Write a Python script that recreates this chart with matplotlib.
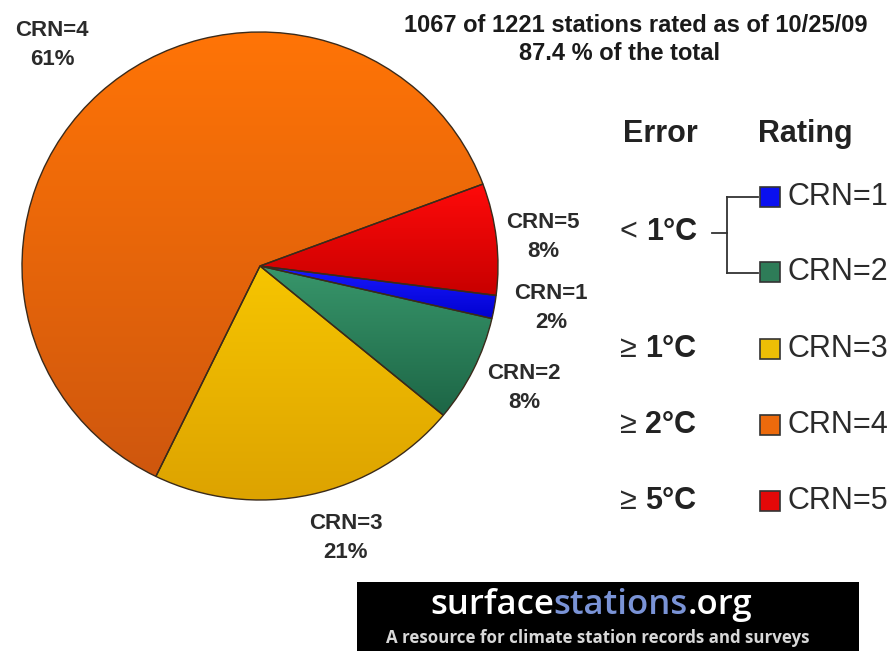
import matplotlib
matplotlib.use("Agg")
import matplotlib.pyplot as plt
import numpy as np
from matplotlib.patches import Rectangle
from matplotlib.colors import to_rgb

plt.rcParams['font.family'] = ['Liberation Sans', 'DejaVu Sans']

# ---- data ----
categories = ['CRN=1', 'CRN=2', 'CRN=3', 'CRN=4', 'CRN=5']
percent = [2, 8, 21, 61, 8]                 # label values
share = [1.6, 7.4, 21.2, 62.1, 7.7]         # wedge shares
colors = ['#0A10F0', '#2E7C58', '#EDBE06', '#EC6A0C', '#E40808']
top_colors = ['#1A1AFF', '#38966B', '#F6C500', '#FF7406', '#FF0A0A']
bot_colors = ['#0000D0', '#1D6646', '#DDA300', '#CF570E', '#C80000']
errors = ['< ', '< ', '\u2265 ', '\u2265 ', '\u2265 ']
error_vals = ['1°C', '1°C', '1°C', '2°C', '5°C']
title_lines = ['1067 of 1221 stations rated as of 10/25/09', '87.4 % of the total']

W, H = 895, 651
fig = plt.figure(figsize=(W / 100, H / 100), dpi=100)
fig.patch.set_facecolor('white')

# pie axes placed in pixel box
cx, cy, rx, ry = 260, 266, 238, 234
pax = fig.add_axes([(cx - rx) / W, (H - cy - ry) / H, 2 * rx / W, 2 * ry / H])
order = [4, 0, 1, 2, 3]  # clockwise from start: CRN=5, CRN=1, CRN=2, CRN=3, CRN=4
wedges, _ = pax.pie([share[i] for i in order], colors=[colors[i] for i in order],
                    startangle=20.5, counterclock=False, radius=1.0,
                    wedgeprops=dict(edgecolor='#3a2a1a', linewidth=1.0))
pax.set_xlim(-1.0, 1.0)
pax.set_ylim(-1.0, 1.0)
pax.set_aspect('auto')
pax.axis('off')

# vertical gradient inside each wedge
for w, i in zip(wedges, order):
    ext = w.get_path().get_extents()
    n = 64
    t = np.linspace(0, 1, n)[:, None]
    c0 = np.array(to_rgb(top_colors[i]))
    c1 = np.array(to_rgb(bot_colors[i]))
    img = (c0 * (1 - t) + c1 * t)[:, None, :].repeat(2, axis=1)
    im = pax.imshow(img, extent=(ext.x0, ext.x1, ext.y0, ext.y1), origin='upper',
                    aspect='auto', zorder=1, interpolation='bilinear')
    im.set_clip_path(w)
    w.set_facecolor('none')
    w.set_zorder(2)
pax.set_xlim(-1.0, 1.0)
pax.set_ylim(-1.0, 1.0)

# overlay axes in pixel coords
ax = fig.add_axes([0, 0, 1, 1])
ax.set_xlim(0, W)
ax.set_ylim(H, 0)
ax.axis('off')

lab_col = '#2b2b2b'
label_pos = {'CRN=4': (52, 45), 'CRN=5': (543, 237), 'CRN=1': (551, 308),
             'CRN=2': (524, 388), 'CRN=3': (346, 538)}
for c, p in zip(categories, percent):
    x, y = label_pos[c]
    ax.text(x, y, f'{c}\n{p}%', ha='center', va='center', fontsize=16,
            fontweight='bold', color=lab_col, linespacing=1.45)

ax.text(636, 25, title_lines[0], ha='center', va='center', fontsize=17,
        fontweight='bold', color='#1a1a1a')
ax.text(620, 53, title_lines[1], ha='center', va='center', fontsize=17,
        fontweight='bold', color='#1a1a1a')

# legend headers
ax.text(660, 134, 'Error', ha='center', va='center', fontsize=22,
        fontweight='bold', color='#222222')
ax.text(805, 134, 'Rating', ha='center', va='center', fontsize=22,
        fontweight='bold', color='#222222')

row_y = [197, 272, 349, 425, 501]
sq = 20
for i, c in enumerate(categories):
    y = row_y[i]
    ax.add_patch(Rectangle((760, y - sq / 2), sq, sq, facecolor=colors[i],
                           edgecolor='#333333', linewidth=1.2))
    ax.text(788, y, c, ha='left', va='center', fontsize=22, color='#2b2b2b')

err_rows = [(232, 0), (349, 2), (425, 3), (501, 4)]
for y, i in err_rows:
    t = ax.text(620, y, errors[i], ha='left', va='center', fontsize=22,
                color='#2b2b2b')
    ax.annotate(error_vals[i], xycoords=t, xy=(1, 0.5), va='center', ha='left',
                fontsize=22, fontweight='bold', color='#222222')

# bracket
bk = dict(color='#333333', linewidth=1.3)
ax.plot([712, 727], [233, 233], **bk)
ax.plot([727, 727], [197, 273], **bk)
ax.plot([727, 758], [197, 197], **bk)
ax.plot([727, 758], [273, 273], **bk)

# logo box
ax.add_patch(Rectangle((357, 582), 502, 75, facecolor='black', edgecolor='none'))
fs = 25
t1 = ax.text(430, 605, 'surface', ha='left', va='center', fontsize=fs,
             color='white', family='Open Sans', fontweight='semibold')
t2 = ax.annotate('stations', xycoords=t1, xy=(1, 0), va='bottom', ha='left',
                 fontsize=fs, color='#7A93D6', family='Open Sans', fontweight='semibold')
ax.annotate('.org', xycoords=t2, xy=(1, 0), va='bottom', ha='left',
            fontsize=fs, color='white', family='Open Sans', fontweight='semibold')
ax.text(598, 638, 'A resource for climate station records and surveys', ha='center',
        va='center', fontsize=12.2, color='#d8d8d8', family='Open Sans',
        fontweight='bold')

fig.savefig('out.png', dpi=100)
